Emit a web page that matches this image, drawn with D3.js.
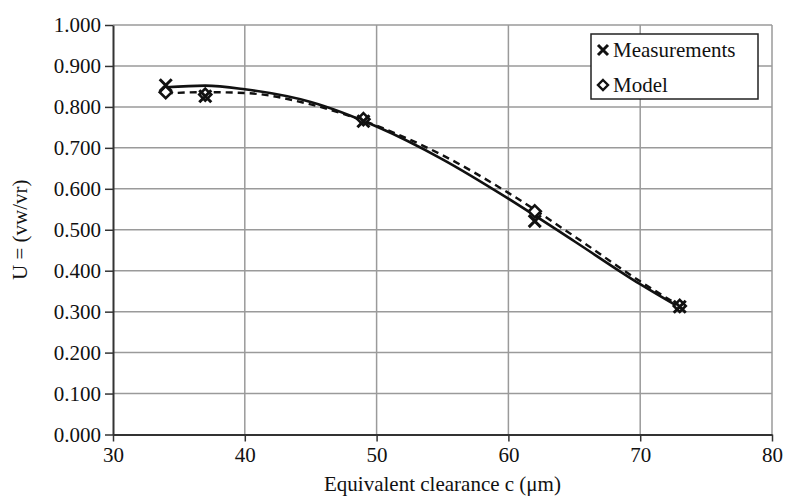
<!DOCTYPE html>
<html>
<head>
<meta charset="utf-8">
<script src="https://cdn.jsdelivr.net/npm/d3@7"></script>
<style>
  body { margin: 0; background: #fff; }
  svg text { font-family: "Liberation Serif", serif !important; fill: #111; }
</style>
</head>
<body>
<div id="content"></div>
<script>
// data
const clearance = [34, 37, 49, 62, 73];
const measured = [0.853, 0.826, 0.765, 0.521, 0.312];
const model = [0.836, 0.830, 0.770, 0.545, 0.314];

// trend curves (as drawn in the picture)
const trendX = [34, 37, 40, 45, 50, 55, 60, 65, 70, 73];
const trendMeasured = [0.848, 0.852, 0.843, 0.812, 0.752, 0.672, 0.576, 0.472, 0.367, 0.310];
const trendModel = [0.833, 0.836, 0.834, 0.806, 0.754, 0.682, 0.590, 0.484, 0.374, 0.314];

const xTicks = [30, 40, 50, 60, 70, 80];
const yTicks = [0, 0.1, 0.2, 0.3, 0.4, 0.5, 0.6, 0.7, 0.8, 0.9, 1.0];

const W = 787, H = 500;
const m = {left: 113, right: 15, top: 25, bottom: 65.5};

const svg = d3.select("#content").append("svg")
    .attr("width", W)
    .attr("height", H);

const x = d3.scaleLinear().domain([30, 80]).range([m.left, W - m.right]);
const y = d3.scaleLinear().domain([0, 1]).range([H - m.bottom, m.top]);

// grid
svg.append("g").selectAll("line")
    .data(yTicks.slice(1))
    .enter().append("line")
    .attr("x1", x(30)).attr("x2", x(80))
    .attr("y1", d => y(d)).attr("y2", d => y(d))
    .style("stroke", "#9a9a9a").style("stroke-width", 1.5);

svg.append("g").selectAll("line")
    .data(xTicks.slice(1))
    .enter().append("line")
    .attr("x1", d => x(d)).attr("x2", d => x(d))
    .attr("y1", y(0)).attr("y2", y(1))
    .style("stroke", "#9a9a9a").style("stroke-width", 1.5);

// axes
const xAxis = svg.append("g")
    .attr("transform", `translate(0,${y(0)})`)
    .call(d3.axisBottom(x).tickValues(xTicks).tickSize(7).tickSizeOuter(0).tickPadding(6));
const yAxis = svg.append("g")
    .attr("transform", `translate(${x(30)},0)`)
    .call(d3.axisLeft(y).tickValues(yTicks).tickFormat(d3.format(".3f")).tickSize(8).tickSizeOuter(0).tickPadding(4));

[xAxis, yAxis].forEach(a => {
    a.attr("font-family", null);
    a.select(".domain").style("stroke", "#333").style("stroke-width", 2);
    a.selectAll(".tick line").style("stroke", "#333").style("stroke-width", 1.5);
    a.selectAll(".tick text")
        .style("font-size", "21px")
        .style("fill", "#111");
});

// trend lines
const line = d3.line().x(d => x(d[0])).y(d => y(d[1])).curve(d3.curveMonotoneX);

svg.append("path")
    .datum(trendX.map((v, i) => [v, trendModel[i]]))
    .attr("d", line)
    .style("fill", "none").style("stroke", "#111")
    .style("stroke-width", 2.4).style("stroke-dasharray", "7,5");

svg.append("path")
    .datum(trendX.map((v, i) => [v, trendMeasured[i]]))
    .attr("d", line)
    .style("fill", "none").style("stroke", "#111")
    .style("stroke-width", 2.6);

// markers
const diamond = s => `M0,${-s}L${s},0L0,${s}L${-s},0Z`;
const cross = s => `M${-s},${-s}L${s},${s}M${-s},${s}L${s},${-s}`;

svg.append("g").selectAll("path")
    .data(clearance.map((v, i) => [v, model[i]]))
    .enter().append("path")
    .attr("transform", d => `translate(${x(d[0])},${y(d[1])})`)
    .attr("d", diamond(6))
    .style("fill", "#fff").style("stroke", "#111").style("stroke-width", 2.6);

svg.append("g").selectAll("path")
    .data(clearance.map((v, i) => [v, measured[i]]))
    .enter().append("path")
    .attr("transform", d => `translate(${x(d[0])},${y(d[1])})`)
    .attr("d", cross(6))
    .style("fill", "none").style("stroke", "#111").style("stroke-width", 3);

// axis titles
svg.append("text")
    .attr("x", (x(30) + x(80)) / 2).attr("y", 491)
    .attr("text-anchor", "middle")
    .style("font-size", "21px")
    .text("Equivalent clearance c (\u03bcm)");

svg.append("text")
    .attr("transform", `translate(27,${(y(0) + y(1)) / 2}) rotate(-90)`)
    .attr("text-anchor", "middle")
    .style("font-size", "21px")
    .text("U = (vw/vr)");

// legend
const lg = svg.append("g").attr("transform", "translate(591,34)");
lg.append("rect")
    .attr("width", 167).attr("height", 65)
    .style("fill", "#fff").style("stroke", "#222").style("stroke-width", 1.5);

const items = [["Measurements", cross(5)], ["Model", diamond(5)]];
const rows = lg.selectAll("g.item")
    .data(items)
    .enter().append("g")
    .attr("transform", (d, i) => `translate(0,${i * 35})`);

rows.append("path")
    .attr("transform", "translate(12,16)")
    .attr("d", d => d[1])
    .style("fill", (d, i) => i ? "#fff" : "none")
    .style("stroke", "#111").style("stroke-width", (d, i) => i ? 2.4 : 3);

rows.append("text")
    .attr("x", 22).attr("y", 23)
    .style("font-size", "21px")
    .text(d => d[0]);
</script>
</body>
</html>
